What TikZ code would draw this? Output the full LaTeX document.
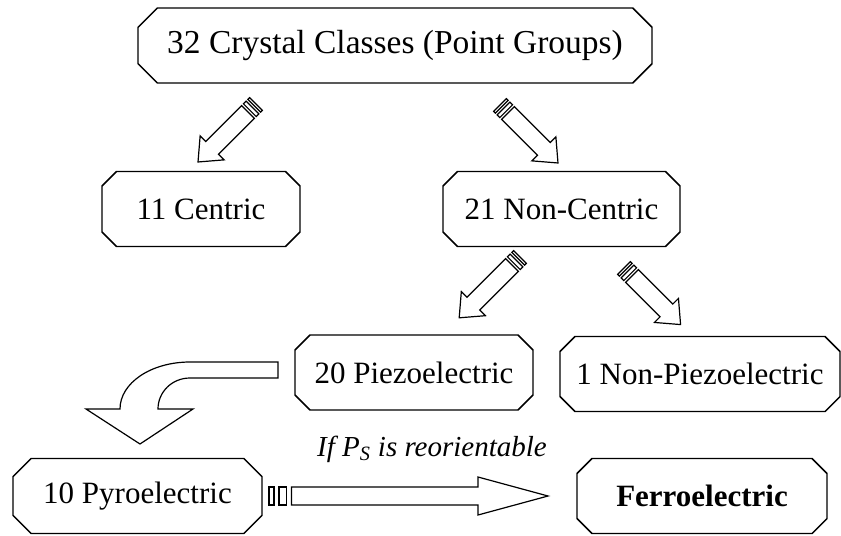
\documentclass[tikz,border=0pt]{standalone}
\usepackage{fontspec}
\setmainfont{Liberation Serif}
\usepackage{tikz}
\usetikzlibrary{shapes.misc}
\tikzstyle{crystal}=[chamfered rectangle, chamfered rectangle xsep=15pt, draw, line width=1.1pt, fill=white, text centered, inner sep=0pt, minimum height=56.25pt, font=\fontsize{23.25}{28}\selectfont]
\tikzstyle{blockarrow}=[draw, line width=0.9pt, fill=white, line join=miter]
% #1 tail, #2 angle, #3 length, #4 head length, #5 head half width, #6 stripe unit
\newcommand{\stripedarrow}[6]{%
  \begin{scope}[shift={#1}, rotate=#2]
    \path[blockarrow] (0,-9) rectangle (#6,9);
    \path[blockarrow] (2*#6,-9) rectangle (3.5*#6,9);
    \path[blockarrow] (4.5*#6,-9) -- (#3-#4,-9) -- (#3-#4,-#5) -- (#3,0)
      -- (#3-#4,#5) -- (#3-#4,9) -- (4.5*#6,9) -- cycle;
  \end{scope}}

\begin{document}
\begin{tikzpicture}[x=0.75pt, y=-0.75pt]
      %
      \path[use as bounding box, fill=white] (0,0) rectangle (841,535);
      %
      % 32 Crystal Classes --> 11 Centric, 21 Non-Centric
      %
      \path node[crystal, minimum width=385.5pt, font=\fontsize{25.1}{30}\selectfont]
        (classes) at (395,45.5) {32 Crystal Classes (Point Groups)};
      \path node[crystal, minimum width=148.5pt] (centric) at (201,209) {11 Centric};
      \path node[crystal, minimum width=177.75pt] (noncentric) at (561.5,209) {21 Non-Centric};
      \stripedarrow{(256,104)}{225}{82}{20}{17}{2.5}
      \stripedarrow{(500,105)}{-45}{82}{20}{17}{2.5}
      %
      % 21 Non-Centric --> 20 Piezoelectric, 1 Non-Piezoelectric
      %
      \path node[crystal, minimum width=178.5pt] (piezo) at (414,372.5) {20 Piezoelectric};
      \path node[crystal, minimum width=210pt] (nonpiezo) at (700,374) {1 Non-Piezoelectric};
      \stripedarrow{(520,257)}{225}{86}{20}{17}{2.5}
      \stripedarrow{(624,268)}{-45}{80}{20}{17}{2.5}
      %
      % 20 Piezoelectric --> 10 Pyroelectric*
      %
      \path node[crystal, minimum width=186.75pt] (pyro) at (137.5,496) {10 Pyroelectric};
      \path[blockarrow] (278,362) -- (190,362) .. controls (151,362) and (120,383) .. (120,409)
        -- (86,409) -- (140,444) -- (193,409) -- (158,409)
        .. controls (158,392) and (172,378) .. (190,378) -- (278,378) -- cycle;
      %
      % 10 Pyroelectric --> Ferroelectric
      %
      \path node[crystal, minimum width=187.5pt, font=\fontsize{23.25}{28}\selectfont\bfseries]
        (ferro) at (702,496) {Ferroelectric};
      \stripedarrow{(269,496)}{0}{279}{70}{19}{5}
      \path node[font=\fontsize{21.75}{26}\selectfont\itshape] (reorient) at (432,449)
        {If P\textsubscript{S} is reorientable};
      %
\end{tikzpicture}
\end{document}
